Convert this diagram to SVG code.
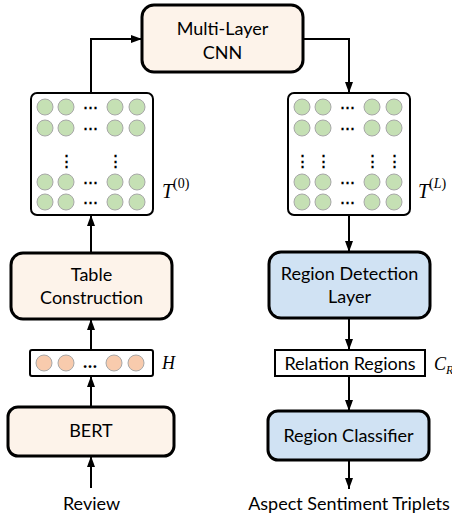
<svg xmlns="http://www.w3.org/2000/svg" width="452" height="515" viewBox="0 0 452 515">
<defs>
<style>
.box{stroke:#000;stroke-width:3}
.peach{fill:#fdf3ea}
.blue{fill:#d0e2f3}
.plain{fill:#fff;stroke:#000;stroke-width:2}
.lbl{font-family:Lato,"Open Sans","Liberation Sans",sans-serif;font-size:18px;fill:#000;text-anchor:middle}
.g{fill:#c5e0b4;stroke:#a8a8a8;stroke-width:1}
.o{fill:#f8cbad;stroke:#a8a8a8;stroke-width:1}
.dots{font-family:"DejaVu Serif",serif;font-size:15px;font-weight:bold;fill:#000;text-anchor:middle}
.math{font-family:"Liberation Serif","DejaVu Serif",serif;fill:#000}
.conn{fill:none;stroke:#000;stroke-width:2}
</style>
<marker id="ah" viewBox="0 0 11 8" refX="11" refY="4" markerWidth="11" markerHeight="8" markerUnits="userSpaceOnUse" orient="auto">
<path d="M0,0 L11,4 L0,8 z" fill="#000"/>
</marker>
<g id="mat">
<rect x="0" y="0" width="122" height="122" rx="6" class="plain"/>
<circle cx="14" cy="14" r="8" class="g"/><circle cx="35" cy="14" r="8" class="g"/><circle cx="84" cy="14" r="8" class="g"/><circle cx="106" cy="14" r="8" class="g"/>
<circle cx="14" cy="35" r="8" class="g"/><circle cx="35" cy="35" r="8" class="g"/><circle cx="84" cy="35" r="8" class="g"/><circle cx="106" cy="35" r="8" class="g"/>
<circle cx="14" cy="89" r="8" class="g"/><circle cx="35" cy="89" r="8" class="g"/><circle cx="84" cy="89" r="8" class="g"/><circle cx="106" cy="89" r="8" class="g"/>
<circle cx="14" cy="109" r="8" class="g"/><circle cx="35" cy="109" r="8" class="g"/><circle cx="84" cy="109" r="8" class="g"/><circle cx="106" cy="109" r="8" class="g"/>
<text x="59.5" y="19" class="dots">⋯</text>
<text x="59.5" y="40" class="dots">⋯</text>
<text x="59.5" y="94" class="dots">⋯</text>
<text x="59.5" y="114" class="dots">⋯</text>
</g>
</defs>

<g id="connectors">
<path d="M91,93 V39 H142" class="conn" marker-end="url(#ah)"/>
<path d="M303,39 H349 V93" class="conn" marker-end="url(#ah)"/>
<path d="M91,253 V215" class="conn" marker-end="url(#ah)"/>
<path d="M91,350 V319" class="conn" marker-end="url(#ah)"/>
<path d="M91,407 V376" class="conn" marker-end="url(#ah)"/>
<path d="M91,488 V456" class="conn" marker-end="url(#ah)"/>
<path d="M349,215 V252" class="conn" marker-end="url(#ah)"/>
<path d="M349,318 V350" class="conn" marker-end="url(#ah)"/>
<path d="M349,376 V411" class="conn" marker-end="url(#ah)"/>
<path d="M349,460 V489" class="conn" marker-end="url(#ah)"/>
</g>

<g id="cnn">
<rect x="142" y="5" width="161" height="67" rx="12" class="box peach"/>
<text x="222.5" y="35" class="lbl">Multi-Layer</text>
<text x="222.5" y="59" class="lbl">CNN</text>
</g>

<g id="table0">
<use href="#mat" x="31" y="93"/>
<text x="66" y="166" class="dots">⋮</text>
<text x="115" y="166" class="dots">⋮</text>
<text x="162" y="198" class="math" font-style="italic" font-size="20">T</text>
<text x="173" y="188" class="math" font-size="14">(0)</text>
</g>

<g id="tableL">
<use href="#mat" x="288" y="93"/>
<text x="302" y="166" class="dots">⋮</text>
<text x="323" y="166" class="dots">⋮</text>
<text x="372" y="166" class="dots">⋮</text>
<text x="394" y="166" class="dots">⋮</text>
<text x="418" y="198" class="math" font-style="italic" font-size="20">T</text>
<text x="429" y="188" class="math" font-size="14">(<tspan font-style="italic">L</tspan>)</text>
</g>

<g id="table-construction">
<rect x="11" y="253" width="161" height="66" rx="12" class="box peach"/>
<text x="91.5" y="281" class="lbl">Table</text>
<text x="91.5" y="304" class="lbl">Construction</text>
</g>

<g id="hidden">
<rect x="30" y="350" width="123" height="26" rx="2" class="plain"/>
<circle cx="44" cy="363" r="8" class="o"/><circle cx="66" cy="363" r="8" class="o"/><circle cx="114" cy="363" r="8" class="o"/><circle cx="136" cy="363" r="8" class="o"/>
<text x="90" y="368" class="dots">…</text>
<text x="162" y="369" class="math" font-style="italic" font-size="18">H</text>
</g>

<g id="bert">
<rect x="8" y="407" width="166" height="49" rx="10" class="box peach"/>
<text x="91" y="437" class="lbl">BERT</text>
</g>

<g id="review">
<text x="91.5" y="510" class="lbl">Review</text>
</g>

<g id="region-detection">
<rect x="269" y="252" width="161" height="66" rx="12" class="box blue"/>
<text x="349.5" y="280" class="lbl">Region Detection</text>
<text x="349.5" y="303" class="lbl">Layer</text>
</g>

<g id="relation-regions">
<rect x="275" y="350" width="150" height="26" class="plain" stroke-width="1.8"/>
<text x="350" y="370" class="lbl">Relation Regions</text>
<text x="434" y="370" class="math" font-style="italic" font-size="18">C</text>
<text x="446" y="374" class="math" font-style="italic" font-size="12">R</text>
</g>

<g id="region-classifier">
<rect x="268" y="411" width="161" height="49" rx="10" class="box blue"/>
<text x="348.5" y="442" class="lbl">Region Classifier</text>
</g>

<g id="output">
<text x="349" y="510" class="lbl">Aspect Sentiment Triplets</text>
</g>
</svg>
